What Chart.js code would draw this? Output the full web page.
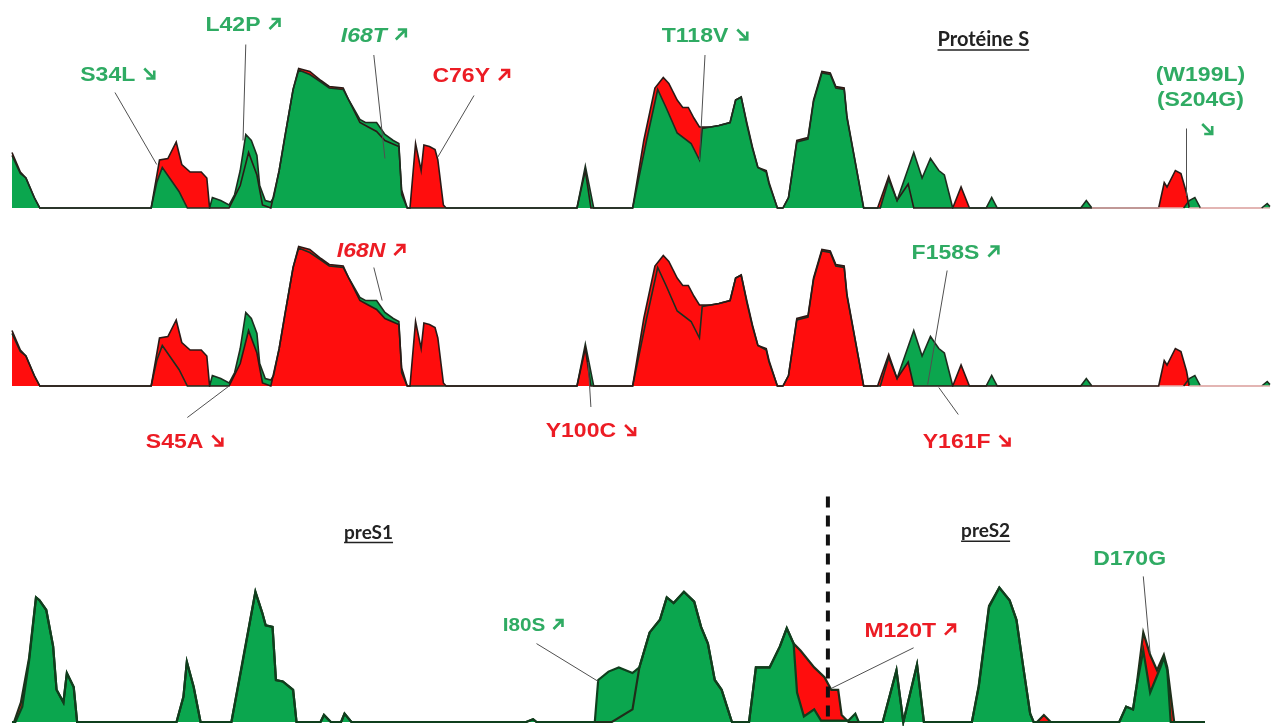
<!DOCTYPE html>
<html>
<head>
<meta charset="utf-8">
<script src="https://cdn.jsdelivr.net/npm/chart.js@4.4.1/dist/chart.umd.min.js"></script>
<style>
  body { margin: 0; background: #fff; }
  canvas { position: absolute; left: 0; top: 0; }
</style>
</head>
<body>
<canvas id="protS1" width="1274" height="726"></canvas>
<canvas id="protS2" width="1274" height="726"></canvas>
<canvas id="preS" width="1274" height="726"></canvas>
<script>
// hydrophobicity profiles, [residue, value]
var sRed = [[0,37],[1.5,24],[2.5,20],[4,7],[5,0],[25,0],[26.5,32],[28,33],[29.5,44],[30.5,29],[32,24],[34,24],[35,20],[35.5,0],
  [39,0],[41,15],[42.5,37],[44,22],[45,2],[46.5,0],[48,25],[49,47],[50.5,79],[51.5,93],[53.5,91],[55.5,85],[57,81],[59.5,80],
  [60.5,72],[62.5,57],[64,54],[65.5,51],[67,45],[69.5,41],[70,12],[71,0],[71.5,0],[72.5,43],[73.5,25],[74,42],[75,41],[76,39],
  [76.5,32],[77.5,2],[78,0],[101.5,0],[103,25],[104,0],[111.5,0],[113.5,45],[115.5,80],[117,87],[118,83],[119.5,72],[120.5,67],
  [121.5,67],[122.5,60],[123.5,54],[125.5,54],[127,55],[129,57],[130,72],[131,74],[132,57],[133,41],[134,27],[135.5,25],[136,17],
  [137.5,0],[138.5,0],[139.5,7],[141,45],[143,47],[144,72],[145.5,91],[147,90],[148,81],[149.5,80],[150,61],[153,0],[155.5,0],
  [157.5,21],[159,5],[161,16],[162,0],[169,0],[170.5,14],[172,0],[206,0],[207,17],[207.5,14],[209,25],[210,23],[211,10],
  [211.5,0],[226,0]];
var sGreen = [[0,35],[1.5,23],[2.5,20],[4,7],[5,0],[25,0],[26,17],[27,27],[28.5,19],[30,11],[31.5,0],[35.5,0],[36,7],[37.5,5],
  [39,2],[40,9],[41,25],[42,49],[43,45],[44,35],[44.5,15],[45.5,5],[46.5,4],[47,7],[48,25],[49,47],[50.5,79],[51.5,92],[53.5,89],
  [55.5,84],[57,80],[59.5,79],[60.5,72],[62.5,59],[63.5,57],[65.5,57],[67,49],[68.5,45],[69.5,43],[70,9],[71,0],[101.5,0],
  [103,28],[104.5,0],[111.5,0],[114,45],[116,79],[117.5,67],[119.5,50],[122,43],[123.5,32],[124,53],[125.5,54],[127,55],[129,57],
  [130,72],[131,74],[132,56],[133,40],[134,27],[135.5,24],[136,16],[137.5,0],[138.5,0],[139.5,7],[141,44],[143,46],[144,71],
  [145.5,90],[147,89],[148,80],[149.5,79],[150,60],[153,0],[156,0],[157.5,19],[159,5],[162,37],[163.5,20],[165,33],[166.5,25],
  [167.5,22],[169,0],[175,0],[176,7],[177,0],[192,0],[193,5],[194,0],[210.5,0],[211.5,5],[212.5,7],[213.5,0],[224.5,0],
  [225.5,3],[226,1]];
var preGreen = [[0,0],[0.5,0],[1.5,11],[2.5,44],[3.5,89],[4,87],[5,80],[6,54],[6.5,23],[7.5,14],[8,35],[9,25],[9.5,0],[24,0],
  [25,18],[25.5,43],[26.5,25],[27.5,0],[32,0],[33.5,39],[35.5,93],[36.5,78],[37,69],[38,68],[38.5,30],[39.5,29],[41,23],[41.5,0],
  [45,0],[45.5,5],[46.5,0],[48,0],[48.5,6],[49.5,0],[75,0],[76,2],[76.5,0],[85,0],[85.5,30],[87,36],[88.5,39],[90.5,35],[91.5,39],
  [93,64],[94.5,73],[95.5,89],[96.5,85],[98,93],[99.5,86],[100.5,68],[101.5,56],[102.5,30],[103.5,23],[105,0],[107.5,0],
  [108.5,39],[110.5,39],[112,54],[113,67],[114,56],[114.5,21],[115.5,4],[117,9],[118,1],[122,1],[123,6],[123.5,0],[127,0],
  [129,37],[130,0],[132,41],[133,0],[140,0],[141,25],[142.5,82],[144,96],[145.5,87],[146.5,73],[147.5,39],[148.5,6],[149,0],
  [161.5,0],[162.5,11],[163.5,9],[164,25],[165,51],[166,21],[167.5,39],[168,46],[168.5,37],[169,0],[174,0]];
var preRed = [[0,0],[0.3,0],[1.3,14],[2.5,46],[3.5,89],[4,87],[5,80],[6,54],[6.5,23],[7.5,14],[8,35],[9,25],[9.5,0],[24,0],
  [25,18],[25.5,43],[26.5,25],[27.5,0],[32,0],[33.5,40],[35.5,93],[36.5,78],[37,69],[38,68],[38.5,30],[39.5,29],[41,23],[41.5,0],
  [45,0],[45.5,5],[46.5,0],[48,0],[48.5,6],[49.5,0],[75,0],[76,2],[76.5,0],[87.5,0],[90.5,9],[91.5,39],[93,64],[94.5,73],
  [95.5,89],[96.5,85],[98,93],[99.5,86],[100.5,68],[101.5,56],[102.5,30],[103.5,23],[105,0],[107.5,0],[108.5,39],[110.5,39],
  [112,54],[113,67],[114,56],[115,51],[117,39],[118.5,32],[119.5,23],[120.5,23],[121,5],[122,0],[127,0],[129,37],[130,0],
  [132,41],[133,0],[140,0],[141,26],[142.5,83],[144,96],[145.5,87],[146.5,73],[147.5,39],[148.5,6],[149,0],[149.5,0],[150.5,5],
  [151.5,0],[161.5,0],[162.5,11],[163.5,9],[164,25],[165,64],[166,48],[167,37],[168,48],[168.5,39],[169.5,0],[174,0]];

var GREEN = '#0ba64e', RED = '#ff0d0d';
var TXT_GREEN = '#2fab63', TXT_RED = '#ec1c24';

function pts(arr) {
  return arr.map(function(p) { return {x: p[0], y: p[1]}; });
}

// heavy diagonal arrow, box s x s, bottom-left at (x, y)
function drawArrow(ctx, x, y, s, dir, color) {
  ctx.save();
  ctx.strokeStyle = color;
  ctx.lineWidth = 2.6;
  ctx.lineCap = 'butt';
  ctx.lineJoin = 'miter';
  ctx.beginPath();
  if (dir === 'ne') {
    ctx.moveTo(x + 1, y - 1);
    ctx.lineTo(x + s - 1, y - s + 1);
    ctx.moveTo(x + 3, y - s + 1);
    ctx.lineTo(x + s - 1, y - s + 1);
    ctx.lineTo(x + s - 1, y - 3);
  } else {
    ctx.moveTo(x + 1, y - s + 1);
    ctx.lineTo(x + s - 1, y - 1);
    ctx.moveTo(x + s - 1, y - s + 3);
    ctx.lineTo(x + s - 1, y - 1);
    ctx.lineTo(x + 3, y - 1);
  }
  ctx.stroke();
  ctx.restore();
}

var notesPlugin = {
  id: 'notes',
  afterDatasetsDraw: function(chart, args, opts) {
    var ctx = chart.ctx, xs = chart.scales.x, ys = chart.scales.y;
    var px = function(u) { return xs.getPixelForValue(u); };
    var py = function(v) { return ys.getPixelForValue(v); };
    ctx.save();
    (opts.leaders || []).forEach(function(l) {
      ctx.strokeStyle = '#505050';
      ctx.lineWidth = 1;
      ctx.beginPath();
      ctx.moveTo(px(l[0]), py(l[1]));
      ctx.lineTo(px(l[2]), py(l[3]));
      ctx.stroke();
    });
    if (opts.divider) {
      var d = opts.divider;
      ctx.strokeStyle = '#111';
      ctx.lineWidth = 4;
      ctx.setLineDash([11, 8]);
      ctx.beginPath();
      ctx.moveTo(px(d[0]), py(d[1]));
      ctx.lineTo(px(d[0]), py(d[2]));
      ctx.stroke();
      ctx.setLineDash([]);
    }
    (opts.labels || []).forEach(function(t) {
      var size = t.size || 20;
      var family = t.title ? 'Lato, "Open Sans", sans-serif' : '"Liberation Sans", sans-serif';
      ctx.font = (t.italic ? 'italic ' : '') + 'bold ' + size + 'px ' + family;
      ctx.fillStyle = t.color;
      ctx.textAlign = 'left';
      ctx.textBaseline = 'alphabetic';
      var sx = t.title ? 1 : 1.15;
      var tw = ctx.measureText(t.text).width * sx;
      var aw = t.arrow ? Math.round(size * 0.62) : 0;
      var gap = t.arrow ? size * 0.4 : 0;
      var total = tw + gap + aw;
      var x = px(t.at[0]) - total / 2, y = py(t.at[1]);
      ctx.save();
      ctx.translate(x, y);
      ctx.scale(sx, 1);
      ctx.fillText(t.text, 0, 0);
      ctx.restore();
      if (t.arrow) drawArrow(ctx, x + tw + gap, y - 1, aw, t.arrow, t.color);
      if (t.title) {
        ctx.strokeStyle = t.color;
        ctx.lineWidth = 1.5;
        ctx.beginPath();
        ctx.moveTo(x, y + 4);
        ctx.lineTo(x + tw, y + 4);
        ctx.stroke();
      }
    });
    ctx.restore();
  }
};

function makeChart(id, back, front, cfg) {
  var baseSeg = {
    borderColor: function(c) {
      if (cfg.fadeFrom !== undefined && c.p0.parsed.x >= cfg.fadeFrom && c.p0.parsed.y === 0 && c.p1.parsed.y === 0) return '#e2b0ae';
      return undefined;
    }
  };
  function lineSet(data, color, order) {
    return { data: pts(data), borderColor: color, borderWidth: cfg.lineWidth, fill: false,
      pointRadius: 0, tension: 0, order: order, clip: 6, segment: baseSeg };
  }
  function fillSet(data, color, order) {
    return { data: pts(data), backgroundColor: color, borderColor: 'transparent', borderWidth: 0,
      fill: 'origin', pointRadius: 0, tension: 0, order: order, clip: 6 };
  }
  return new Chart(document.getElementById(id), {
    type: 'line',
    data: {
      datasets: [
        lineSet(front.data, cfg.frontLine, 0),
        lineSet(back.data, cfg.backLine, 1),
        fillSet(front.data, front.color, 2),
        fillSet(back.data, back.color, 3)
      ]
    },
    options: {
      responsive: false,
      animation: false,
      layout: { padding: cfg.pad },
      scales: {
        x: { type: 'linear', min: 0, max: cfg.xmax, display: false },
        y: { min: 0, max: 100, display: false }
      },
      plugins: {
        legend: { display: false },
        tooltip: { enabled: false },
        notes: cfg.notes
      }
    },
    plugins: [notesPlugin]
  });
}

// Protéine S, green in front
makeChart('protS1', {data: sRed, color: RED}, {data: sGreen, color: GREEN}, {
  pad: {left: 12, right: 4, top: 58, bottom: 518}, xmax: 226, lineWidth: 1.6,
  frontLine: '#1c2e1f', backLine: '#2a1a16', fadeFrom: 184,
  notes: {
    labels: [
      {text: 'S34L', arrow: 'se', at: [19, 85], color: TXT_GREEN},
      {text: 'L42P', arrow: 'ne', at: [41.5, 118], color: TXT_GREEN},
      {text: 'I68T', arrow: 'ne', at: [65, 111], color: TXT_GREEN, italic: true},
      {text: 'C76Y', arrow: 'ne', at: [82.5, 84], color: TXT_RED},
      {text: 'T118V', arrow: 'se', at: [124.5, 111], color: TXT_GREEN},
      {text: 'Prot\u00e9ine S', at: [174.5, 108], color: '#222', title: true},
      {text: '(W199L)', at: [213.5, 85], color: TXT_GREEN},
      {text: '(S204G)', at: [213.5, 68], color: TXT_GREEN},
      {text: '', arrow: 'se', at: [214, 48], color: TXT_GREEN}
    ],
    leaders: [[18.5, 77, 26, 29], [42, 109, 41.5, 45], [65, 102, 67, 33], [83, 75, 76.5, 34],
      [124.5, 102, 123.5, 32], [211, 53, 211, 8]]
  }
});

// Protéine S, red in front
makeChart('protS2', {data: sGreen, color: GREEN}, {data: sRed, color: RED}, {
  pad: {left: 12, right: 4, top: 236, bottom: 340}, xmax: 226, lineWidth: 1.6,
  frontLine: '#2a1a16', backLine: '#1c2e1f', fadeFrom: 184,
  notes: {
    labels: [
      {text: 'I68N', arrow: 'ne', at: [64.5, 86], color: TXT_RED, italic: true},
      {text: 'S45A', arrow: 'se', at: [31, -41], color: TXT_RED},
      {text: 'Y100C', arrow: 'se', at: [104, -34], color: TXT_RED},
      {text: 'F158S', arrow: 'ne', at: [169.5, 85], color: TXT_GREEN},
      {text: 'Y161F', arrow: 'se', at: [171.5, -41], color: TXT_RED}
    ],
    leaders: [[65, 79, 66.5, 57], [31.5, -21, 39, 0], [104, -14, 103.5, 16], [168, 77, 164.5, 1], [170, -19, 166.5, -1]]
  }
});

// preS1 / preS2
makeChart('preS', {data: preRed, color: RED}, {data: preGreen, color: GREEN}, {
  pad: {left: 12, right: 69, top: 582, bottom: 4}, xmax: 174, lineWidth: 2.2,
  frontLine: '#0f3f1d', backLine: '#1f2e1a',
  notes: {
    labels: [
      {text: 'preS1', at: [52, 131], color: '#222', title: true, size: 19},
      {text: 'preS2', at: [142, 132], color: '#222', title: true, size: 19},
      {text: 'I80S', arrow: 'ne', at: [76, 65], color: TXT_GREEN, size: 18},
      {text: 'M120T', arrow: 'ne', at: [131, 61], color: TXT_RED},
      {text: 'D170G', at: [163, 112], color: TXT_GREEN}
    ],
    leaders: [[76.5, 56, 85.5, 29], [131.5, 53, 119.5, 24], [165, 104, 166, 49]],
    divider: [119, 161, 0]
  }
});
</script>
</body>
</html>
